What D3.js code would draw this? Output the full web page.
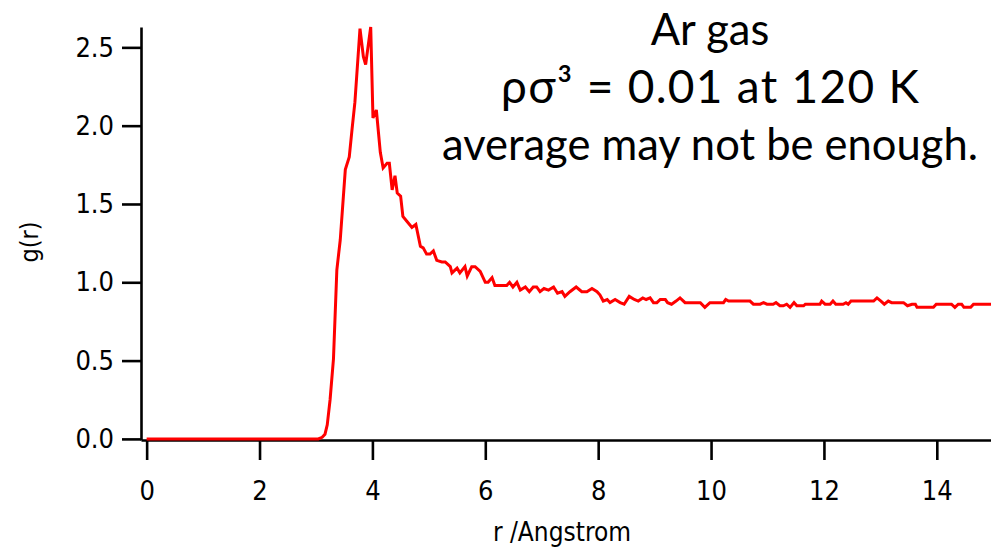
<!DOCTYPE html>
<html>
<head>
<meta charset="utf-8">
<script src="https://cdn.jsdelivr.net/npm/d3@7"></script>
<style>
  html, body { margin: 0; padding: 0; background: #fff; }
  svg { display: block; }
</style>
</head>
<body>
<svg id="chart" width="991" height="547"></svg>
<script>
// Radial distribution function of argon gas: r in Angstrom, g(r)
const rValues = [
  0, 3.04, 3.11, 3.16, 3.20, 3.25, 3.31, 3.37, 3.43, 3.52, 3.59, 3.64, 3.69, 3.78, 3.84, 3.88,
  3.97, 4.01, 4.07, 4.14, 4.19, 4.26, 4.30, 4.35, 4.40, 4.44, 4.50, 4.54, 4.61, 4.70, 4.77, 4.85,
  4.90, 4.96, 5.02, 5.08, 5.14, 5.23, 5.29, 5.38, 5.41, 5.50, 5.55, 5.64, 5.68, 5.76, 5.82, 5.91,
  6.00, 6.05, 6.12, 6.17, 6.38, 6.43, 6.49, 6.56, 6.62, 6.71, 6.78, 6.85, 6.91, 6.97, 7.04, 7.12,
  7.21, 7.28, 7.36, 7.41, 7.50, 7.61, 7.71, 7.80, 7.89, 7.98, 8.03, 8.09, 8.16, 8.21, 8.30, 8.39,
  8.46, 8.55, 8.64, 8.71, 8.79, 8.85, 8.92, 8.98, 9.04, 9.10, 9.19, 9.23, 9.30, 9.38, 9.45, 9.54,
  9.63, 9.72, 9.81, 9.89, 9.98, 10.10, 10.22, 10.26, 10.31, 10.69, 10.75, 10.87, 10.93, 10.99, 11.10, 11.15,
  11.22, 11.28, 11.34, 11.40, 11.47, 11.52, 11.64, 11.67, 11.93, 11.96, 12.02, 12.11, 12.16, 12.21, 12.34, 12.39,
  12.43, 12.48, 12.88, 12.94, 13.01, 13.07, 13.14, 13.20, 13.41, 13.48, 13.56, 13.62, 13.65, 13.94, 13.99, 14.26,
  14.32, 14.38, 14.44, 14.48, 14.60, 14.65, 14.96
];
const gValues = [
  0, 0, 0.01, 0.03, 0.09, 0.25, 0.51, 1.08, 1.27, 1.72, 1.80, 1.98, 2.15, 2.62, 2.44, 2.39,
  2.63, 2.05, 2.10, 1.83, 1.73, 1.76, 1.76, 1.59, 1.68, 1.57, 1.55, 1.42, 1.39, 1.35, 1.37, 1.23,
  1.22, 1.18, 1.18, 1.20, 1.14, 1.13, 1.13, 1.10, 1.06, 1.09, 1.06, 1.10, 1.04, 1.10, 1.10, 1.07,
  1.00, 1.00, 1.03, 0.98, 0.98, 1.00, 0.97, 1.00, 0.95, 0.97, 0.94, 0.97, 0.97, 0.94, 0.96, 0.95,
  0.97, 0.93, 0.94, 0.91, 0.94, 0.97, 0.94, 0.94, 0.96, 0.94, 0.92, 0.88, 0.89, 0.87, 0.89, 0.87,
  0.86, 0.91, 0.89, 0.88, 0.90, 0.89, 0.90, 0.87, 0.87, 0.89, 0.89, 0.87, 0.86, 0.88, 0.90, 0.87,
  0.87, 0.87, 0.87, 0.84, 0.87, 0.87, 0.87, 0.89, 0.88, 0.88, 0.86, 0.86, 0.87, 0.86, 0.86, 0.87,
  0.85, 0.85, 0.86, 0.84, 0.87, 0.85, 0.85, 0.86, 0.86, 0.88, 0.86, 0.86, 0.88, 0.86, 0.86, 0.87,
  0.86, 0.88, 0.88, 0.90, 0.88, 0.86, 0.88, 0.87, 0.87, 0.85, 0.86, 0.86, 0.84, 0.84, 0.86, 0.86,
  0.84, 0.86, 0.86, 0.84, 0.84, 0.86, 0.86
];
const xTicks = [0, 2, 4, 6, 8, 10, 12, 14];
const yTicks = [0, 0.5, 1.0, 1.5, 2.0, 2.5];
const titleLines = ["Ar gas", "ρσ³ = 0.01 at 120 K", "average may not be enough."];
const xLabel = "r /Angstrom";
const yLabel = "g(r)";

const svg = d3.select("#chart");
const plotLeft = 141, plotRight = 991, plotTop = 27, plotBottom = 440;

const x = d3.scaleLinear().domain([-0.1, 14.96]).range([plotLeft, plotRight]);
const y = d3.scaleLinear().domain([-0.007, 2.63]).range([plotBottom, plotTop]);

const tickFont = "'DejaVu Sans Condensed', 'DejaVu Sans', sans-serif";

// x axis
const xAxis = svg.append("g")
  .attr("transform", `translate(0,${plotBottom})`)
  .call(d3.axisBottom(x).tickValues(xTicks).tickFormat(d3.format("d"))
    .tickSizeInner(20).tickSizeOuter(0).tickPadding(21));

// y axis
const yAxis = svg.append("g")
  .attr("transform", `translate(${plotLeft},0)`)
  .call(d3.axisLeft(y).tickValues(yTicks).tickFormat(d3.format(".1f"))
    .tickSizeInner(19).tickSizeOuter(0).tickPadding(8));

[xAxis, yAxis].forEach(a => {
  a.selectAll("path.domain").attr("stroke", "#000").attr("stroke-width", 2.6);
  a.selectAll(".tick line").attr("stroke", "#000").attr("stroke-width", 2.6);
  a.selectAll(".tick text")
    .attr("fill", "#000")
    .style("font-family", tickFont)
    .style("font-size", "27px");
});

// g(r) curve
const pts = rValues.map((r, i) => [r, gValues[i]]);
svg.append("path")
  .datum(pts)
  .attr("fill", "none")
  .attr("stroke", "#ff0000")
  .attr("stroke-width", 3)
  .attr("stroke-linejoin", "miter")
  .attr("d", d3.line().x(d => x(d[0])).y(d => y(d[1])));

// axis titles
svg.append("text")
  .attr("x", 562).attr("y", 541)
  .attr("text-anchor", "middle")
  .style("font-family", tickFont).style("font-size", "26px")
  .text(xLabel);

svg.append("text")
  .attr("transform", "translate(38,242) rotate(-90)")
  .attr("text-anchor", "middle")
  .style("font-family", tickFont).style("font-size", "25px")
  .text(yLabel);

// annotation block
const titleY = [45, 103, 160];
const titleSizes = [43.5, 46, 43.5];
const titleWidths = [null, 418, null];
titleLines.forEach((t, i) => {
  const txt = svg.append("text")
    .attr("x", 710).attr("y", titleY[i])
    .attr("text-anchor", "middle")
    .style("font-family", "Lato, 'Noto Sans', sans-serif")
    .style("font-size", titleSizes[i] + "px")
    .attr("fill", "#000")
    .text(t);
  if (titleWidths[i]) {
    txt.attr("textLength", titleWidths[i]).attr("lengthAdjust", "spacing");
  }
});
</script>
</body>
</html>
